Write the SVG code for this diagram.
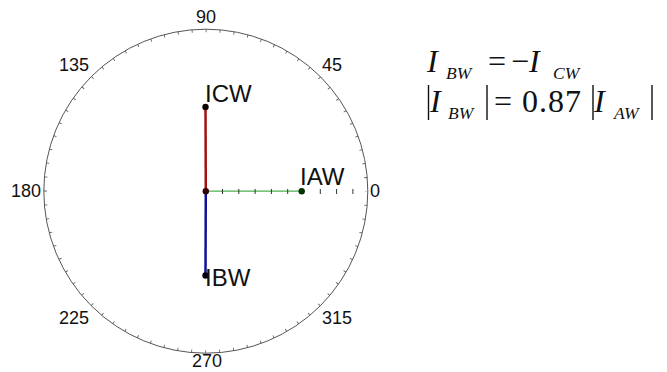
<svg xmlns="http://www.w3.org/2000/svg" width="667" height="372" viewBox="0 0 667 372">
<style>
.ang{font-family:"Liberation Sans",Arial,sans-serif;font-size:18px;fill:#111}
.lbl{font-family:"Liberation Sans",Arial,sans-serif;font-size:24px;fill:#111}
.m{font-family:"Liberation Serif","Times New Roman",serif;font-size:32px;fill:#111}
.mi{font-style:italic}
.sub{font-family:"Liberation Serif","Times New Roman",serif;font-size:17.5px;font-style:italic;fill:#111}
.bar{stroke:#111;stroke-width:1.4}
</style>
<rect width="667" height="372" fill="#fff"/>
<g id="polar-grid">
<circle cx="205.8" cy="191.2" r="162" fill="none" stroke="#555" stroke-width="1"/>
<circle cx="205.8" cy="191.2" r="160.5" fill="none" stroke="#555" stroke-width="3" stroke-dasharray="0.8 13.206" stroke-dashoffset="0.4"/>
<text class="ang" x="206" y="23" text-anchor="middle">90</text>
<text class="ang" x="74" y="71" text-anchor="middle">135</text>
<text class="ang" x="332" y="71" text-anchor="middle">45</text>
<text class="ang" x="41" y="197" text-anchor="end">180</text>
<text class="ang" x="370" y="197">0</text>
<text class="ang" x="74" y="324" text-anchor="middle">225</text>
<text class="ang" x="337" y="324" text-anchor="middle">315</text>
<text class="ang" x="207" y="367" text-anchor="middle">270</text>
</g>
<g id="connectors">
<line x1="205.8" y1="191.2" x2="301.7" y2="191.2" stroke="#4caf50" stroke-width="1.3"/>
<g stroke="#333" stroke-width="1">
<line x1="222.5" y1="189" x2="222.5" y2="194"/>
<line x1="238.8" y1="189" x2="238.8" y2="194"/>
<line x1="255.1" y1="189" x2="255.1" y2="194"/>
<line x1="271.4" y1="189" x2="271.4" y2="194"/>
<line x1="287.7" y1="189" x2="287.7" y2="194"/>
<line x1="320.3" y1="189" x2="320.3" y2="194"/>
<line x1="336.6" y1="189" x2="336.6" y2="194"/>
<line x1="352.9" y1="189" x2="352.9" y2="194"/>
</g>
<line x1="205.8" y1="191.2" x2="205.5" y2="107" stroke="#a01010" stroke-width="2.5"/>
<line x1="205.8" y1="191.2" x2="205.5" y2="275.5" stroke="#10109a" stroke-width="2.5"/>
</g>
<g id="node-origin"><circle cx="205.8" cy="191.2" r="3.2" fill="#300"/></g>
<g id="node-ICW"><circle cx="205.5" cy="107" r="3.2" fill="#100"/><text class="lbl" x="205" y="102">ICW</text></g>
<g id="node-IAW"><circle cx="301.7" cy="191.2" r="3.2" fill="#030"/><text class="lbl" x="300" y="185">IAW</text></g>
<g id="node-IBW"><circle cx="205.5" cy="275.5" r="3.2" fill="#001"/><text class="lbl" x="205" y="286">IBW</text></g>
<g id="equations">
<text class="m mi" x="427" y="72">I</text>
<text class="sub" x="446" y="79">BW</text>
<text class="m" x="488" y="72">=</text>
<text class="m" x="511" y="72">−</text>
<text class="m mi" x="529" y="72">I</text>
<text class="sub" x="553" y="79">CW</text>
<line class="bar" x1="428.5" y1="85" x2="428.5" y2="120"/>
<text class="m mi" x="430" y="112">I</text>
<text class="sub" x="448" y="119">BW</text>
<line class="bar" x1="487" y1="85" x2="487" y2="120"/>
<text class="m" x="494" y="112">=</text>
<text class="m" x="522" y="112" letter-spacing="1">0.87</text>
<line class="bar" x1="593" y1="85" x2="593" y2="120"/>
<text class="m mi" x="594" y="112">I</text>
<text class="sub" x="614" y="119">AW</text>
<line class="bar" x1="652" y1="85" x2="652" y2="120"/>
</g>
</svg>
